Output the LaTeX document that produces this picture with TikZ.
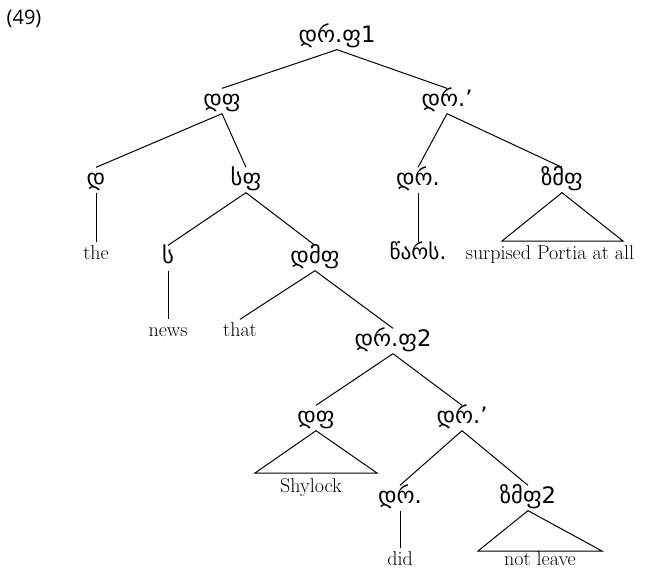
\documentclass[tikz,border=0pt]{standalone}
\usepackage{fontspec}
\newfontfamily\geo{DejaVu Sans}
\newfontfamily\numfont{Open Sans}
\begin{document}
\begin{tikzpicture}[x=0.75pt,y=-0.75pt,
  cat/.style={font=\geo\fontsize{17}{19}\selectfont, inner sep=0pt, text height=12pt, text depth=4pt, outer sep=1.5pt},
  word/.style={font=\fontsize{15}{17}\selectfont, inner sep=0pt, text height=10pt, text depth=3pt, outer sep=3pt},
  gword/.style={font=\geo\fontsize{16}{18}\selectfont, inner sep=0pt, text height=10pt, text depth=3pt, outer sep=3pt},
  br/.style={line width=0.75pt}]
\useasboundingbox (0,0) rectangle (647,568);
\node[font=\numfont\fontsize{15}{17}\selectfont] (num) at (24,19) {(49)};
\node[cat] (tp1) at (337,37) {დრ.ფ1};
\node[cat] (dp1) at (222,101) {დფ};
\node[cat] (tbar1) at (447,101) {დრ.’};
\node[cat] (d) at (96,180) {დ};
\node[cat] (sp) at (246,180) {სფ};
\node[cat] (t1) at (418,180) {დრ.};
\node[cat] (vp1) at (562,180) {ზმფ};
\node[word] (the) at (96,255) {the};
\node[gword] (past) at (418,255) {წარს.};
\node[word] (surp) at (550,255) {surpised Portia at all};
\node[cat] (s) at (168,258) {ს};
\node[cat] (cp) at (315,258) {დმფ};
\node[word] (news) at (168,332) {news};
\node[word] (that) at (240,332) {that};
\node[cat] (tp2) at (393,341) {დრ.ფ2};
\node[cat] (dp2) at (316,418) {დფ};
\node[cat] (tbar2) at (462,418) {დრ.’};
\node[word] (shy) at (311,488) {Shylock};
\node[cat] (t2) at (400,498) {დრ.};
\node[cat] (vp2) at (528,498) {ზმფ2};
\node[word] (did) at (400,561) {did};
\node[word] (nl) at (540,561) {not leave};
\coordinate (vp1L) at (502,241);
\coordinate (vp1R) at (623,241);
\coordinate (dp2L) at (255,473);
\coordinate (dp2R) at (377,473);
\coordinate (vp2L) at (478,551);
\coordinate (vp2R) at (602,551);
\draw[br] (tp1.south) -- (dp1.north);
\draw[br] (tp1.south) -- (tbar1.north);
\draw[br] (dp1.south) -- (d.north);
\draw[br] (dp1.south) -- (sp.north);
\draw[br] (tbar1.south) -- (t1.north);
\draw[br] (tbar1.south) -- (vp1.north);
\draw[br] (d.south) -- (d.south |- the.north);
\draw[br] (t1.south) -- (t1.south |- past.north);
\draw[br] (vp1.south) -- (vp1L) -- (vp1R) -- cycle;
\draw[br] (sp.south) -- (s.north);
\draw[br] (sp.south) -- (cp.north);
\draw[br] (s.south) -- (s.south |- news.north);
\draw[br] (cp.south) -- (that.north);
\draw[br] (cp.south) -- (tp2.north);
\draw[br] (tp2.south) -- (dp2.north);
\draw[br] (tp2.south) -- (tbar2.north);
\draw[br] (dp2.south) -- (dp2L) -- (dp2R) -- cycle;
\draw[br] (tbar2.south) -- (t2.north);
\draw[br] (tbar2.south) -- (vp2.north);
\draw[br] (t2.south) -- (t2.south |- did.north);
\draw[br] (vp2.south) -- (vp2L) -- (vp2R) -- cycle;
\end{tikzpicture}
\end{document}
